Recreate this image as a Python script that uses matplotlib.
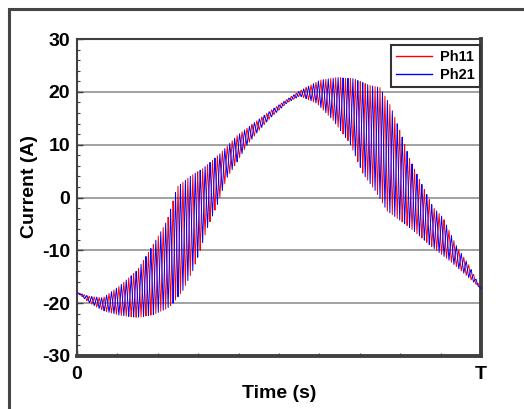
import numpy as np
import matplotlib
matplotlib.use("Agg")
import matplotlib.pyplot as plt
from matplotlib.patches import Rectangle
from matplotlib.ticker import MultipleLocator

plt.rcParams['font.family'] = ['Liberation Sans', 'DejaVu Sans']
plt.rcParams['axes.unicode_minus'] = False

# Envelope of the switching ripple (time as fraction of period T, current in A)
upper_t = [0.000, 0.032, 0.064, 0.106, 0.149, 0.181, 0.205, 0.223, 0.238, 0.248,
           0.280, 0.312, 0.354, 0.396, 0.436, 0.478, 0.520, 0.552, 0.601, 0.644,
           0.683, 0.725, 0.750, 0.775, 0.800, 0.824, 0.849, 0.881, 0.906, 0.938,
           0.970, 1.000]
upper_v = [-18.0, -18.7, -19.0, -16.7, -13.8, -9.9, -6.8, -4.4, -0.6, 2.0,
           4.0, 5.5, 8.3, 11.7, 14.0, 16.4, 18.6, 20.2, 22.2, 22.7,
           22.5, 21.2, 20.8, 17.5, 12.5, 7.2, 3.2, -1.8, -3.8, -9.0,
           -12.8, -17.3]
lower_t = [0.000, 0.032, 0.064, 0.106, 0.149, 0.188, 0.223, 0.238, 0.262, 0.287,
           0.305, 0.322, 0.347, 0.371, 0.396, 0.421, 0.446, 0.478, 0.520, 0.552,
           0.594, 0.634, 0.676, 0.708, 0.738, 0.750, 0.767, 0.824, 0.881, 0.923,
           0.960, 1.000]
lower_v = [-18.0, -20.0, -21.4, -22.3, -22.7, -22.2, -21.0, -20.0, -17.6, -13.8,
           -10.0, -5.9, -1.4, 3.7, 6.7, 9.9, 12.3, 15.0, 17.9, 19.2,
           17.8, 14.6, 10.2, 4.5, 1.3, -0.2, -2.5, -5.7, -9.5, -12.0,
           -14.5, -17.3]
n_switching = 82
series_names = ['Ph11', 'Ph21']
series_colors = ['#ff0000', '#0000ff']
phase_shift = [0.0, 0.5]
x_tick_labels = ['0', 'T']
y_ticks = [-30, -20, -10, 0, 10, 20, 30]

fig = plt.figure(figsize=(5.24, 4.09), dpi=100)
ax = fig.add_axes([77/524, 1-356/409, 404/524, 317/409])

t = np.linspace(0, 1, n_switching * 40 + 1)
up = np.interp(t, upper_t, upper_v)
lo = np.interp(t, lower_t, lower_v)
for name, col, ph in zip(series_names, series_colors, phase_shift):
    frac = (t * n_switching + ph) % 1.0
    tri = 1 - np.abs(2 * frac - 1)
    ax.plot(t, lo + (up - lo) * tri, color=col, lw=0.7, label=name, zorder=3)

ax.set_xlim(0, 1)
ax.set_ylim(-30, 30)
ax.set_yticks(y_ticks)
ax.set_xticks([0, 1])
ax.set_xticklabels(x_tick_labels)
ax.yaxis.set_minor_locator(MultipleLocator(2))
ax.xaxis.set_minor_locator(MultipleLocator(0.1))
for yv in [-20, -10, 0, 10, 20]:
    ax.axhline(yv, color='#9a9a9a', lw=1.3, zorder=1)

ax.tick_params(axis='both', which='major', direction='in', length=4, width=1,
               labelsize=14, colors='#404040', labelcolor='black')
ax.tick_params(axis='both', which='minor', direction='in', length=2.5, width=0.8,
               colors='#404040')
ax.tick_params(axis='y', pad=5)
ax.tick_params(axis='x', pad=7)
for lbl in ax.get_xticklabels() + ax.get_yticklabels():
    lbl.set_fontweight('bold')

for side, lw in [('top', 1.5), ('left', 1.5), ('right', 2.8), ('bottom', 2.8)]:
    ax.spines[side].set_color('#404040')
    ax.spines[side].set_linewidth(lw)

leg = ax.legend(loc='upper right', bbox_to_anchor=(0.998, 0.982), borderaxespad=0,
                fancybox=False, framealpha=1, edgecolor='#333333',
                prop={'weight': 'bold', 'size': 10.5}, handlelength=2.5,
                handletextpad=0.55, borderpad=0.35, labelspacing=0.3)
leg.get_frame().set_linewidth(1.5)
for h in leg.get_lines():
    h.set_linewidth(1.0)

fig.text(30/524, 1-186/409, 'Current (A)', rotation=90, ha='center', va='center',
         fontsize=14, fontweight='bold')
fig.text(279/524, 1-393/409, 'Time (s)', ha='center', va='center',
         fontsize=14, fontweight='bold')

fig.patches.append(Rectangle((9/524, -0.1), 1.2, 1.1 - 9/409, transform=fig.transFigure,
                             fill=False, edgecolor='#454545', lw=2.2, figure=fig))

fig.savefig('out.png', dpi=100)
